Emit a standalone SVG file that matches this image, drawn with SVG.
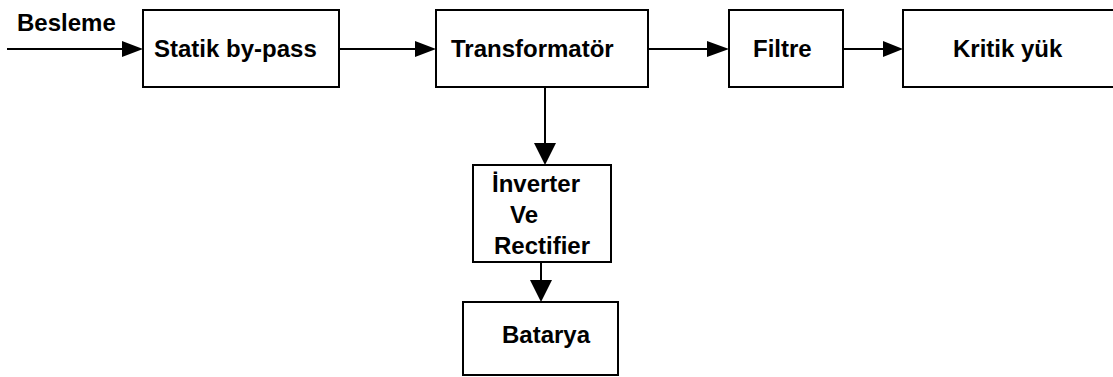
<svg xmlns="http://www.w3.org/2000/svg" width="1113" height="377" viewBox="0 0 1113 377">
<style>
.box{fill:#fff;stroke:#000;stroke-width:2}
.ln{stroke:#000;stroke-width:2;fill:none}
.ah{fill:#000}
text{font-family:"Liberation Sans",Arial,sans-serif;font-weight:bold;font-size:24px;fill:#000}
</style>
<rect width="1113" height="377" fill="#fff"/>
<g id="connectors">
<line class="ln" x1="7" y1="49" x2="124" y2="49"/>
<polygon class="ah" points="122,41 143,49 122,57"/>
<line class="ln" x1="339" y1="49" x2="417" y2="49"/>
<polygon class="ah" points="415,41 436,49 415,57"/>
<line class="ln" x1="648" y1="49" x2="709" y2="49"/>
<polygon class="ah" points="707,41 729,49 707,57"/>
<line class="ln" x1="843" y1="49" x2="885" y2="49"/>
<polygon class="ah" points="883,41 903,49 883,57"/>
<line class="ln" x1="545" y1="87" x2="545" y2="145"/>
<polygon class="ah" points="534,143 556,143 545,165"/>
<line class="ln" x1="541" y1="262" x2="541" y2="282"/>
<polygon class="ah" points="530,280 552,280 541,302"/>
<text x="17" y="31">Besleme</text>
</g>
<g id="statik"><rect class="box" x="143" y="10" width="196" height="77"/><text x="154" y="57">Statik by-pass</text></g>
<g id="transformator"><rect class="box" x="436" y="10" width="212" height="77"/><text x="451" y="57">Transformatör</text></g>
<g id="filtre"><rect class="box" x="729" y="10" width="114" height="77"/><text x="753" y="57">Filtre</text></g>
<g id="kritik"><rect class="box" x="903" y="10" width="230" height="77"/><text x="953" y="57">Kritik yük</text></g>
<g id="inverter"><rect class="box" x="473" y="165" width="138" height="97"/><text x="492" y="192">İnverter</text><text x="510" y="223">Ve</text><text x="494" y="254">Rectifier</text></g>
<g id="batarya"><rect class="box" x="463" y="302" width="155" height="73"/><text x="502" y="343">Batarya</text></g>
</svg>
